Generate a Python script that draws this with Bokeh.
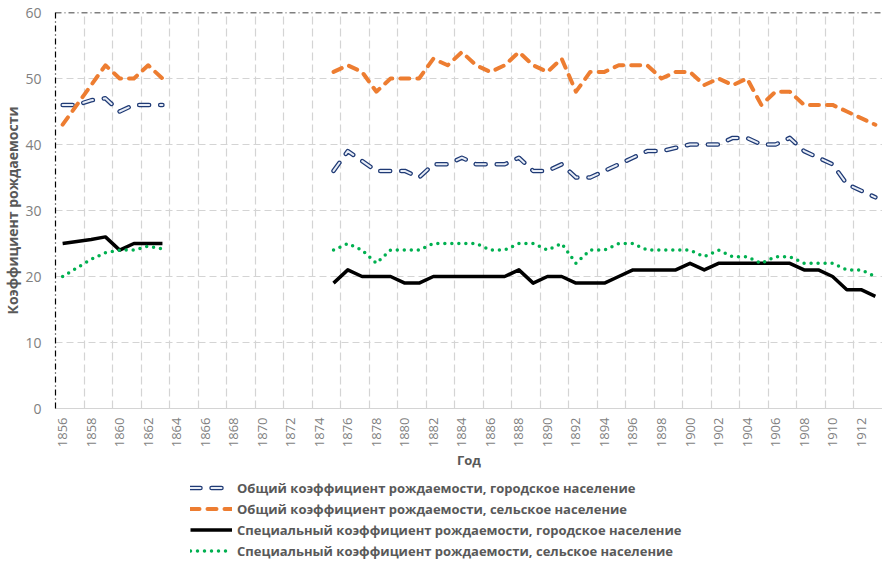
import numpy as np
from bokeh.plotting import figure
from bokeh.layouts import column
from bokeh.models import Range1d, FixedTicker, Span, Legend, LegendItem
from bokeh.embed import file_html
from bokeh.resources import INLINE

# ---------------- data ----------------
years = list(range(1856, 1914))
x_tick_years = list(range(1856, 1913, 2))
y_ticks = [0, 10, 20, 30, 40, 50, 60]

series_names = [
    "Общий коэффициент рождаемости, городское население",
    "Общий коэффициент рождаемости, сельское население",
    "Специальный коэффициент рождаемости, городское население",
    "Специальный коэффициент рождаемости, сельское население",
]

gap = [None] * 11  # 1864-1874: no data

urban_general = [46, 46, 46.7, 47, 45, 46, 46, 46] + gap + [
    36, 39, 37.5, 36, 36, 36, 35, 37, 37, 38, 37, 37, 37, 38, 36, 36, 37, 35, 35, 36,
    37, 38, 39, 39, 39.5, 40, 40, 40, 41, 41, 40, 40, 41, 39, 38, 37, 34, 33, 32]
rural_general = [43, 46, 49, 52, 50, 50, 52, 50] + gap + [
    51, 52, 51, 48, 50, 50, 50, 53, 52, 54, 52, 51, 52, 54, 52, 51, 53, 48, 51, 51,
    52, 52, 52, 50, 51, 51, 49, 50, 49, 50, 46, 48, 48, 46, 46, 46, 45, 44, 43]
urban_special = [25, 25.3, 25.6, 26, 24, 25, 25, 25] + gap + [
    19, 21, 20, 20, 20, 19, 19, 20, 20, 20, 20, 20, 20, 21, 19, 20, 20, 19, 19, 19,
    20, 21, 21, 21, 21, 22, 21, 22, 22, 22, 22, 22, 22, 21, 21, 20, 18, 18, 17]
rural_special = [20, 21.3, 22.6, 23.6, 24, 24, 24.6, 24.2] + gap + [
    24, 25, 24, 22, 24, 24, 24, 25, 25, 25, 25, 24, 24, 25, 25, 24, 25, 22, 24, 24,
    25, 25, 24, 24, 24, 24, 23, 24, 23, 23, 22, 23, 23, 22, 22, 22, 21, 21, 20]


def arr(v):
    return np.array([np.nan if a is None else a for a in v], dtype=float)


x = np.array(years, dtype=float)

FONT = "Open Sans"
GRID = "#d4d4d4"

# line styles (shared by the chart and the legend strip)
styles = [
    [dict(line_color="#1f3a75", line_width=4.5, line_dash="10 11", line_cap="round", line_join="round"),
     dict(line_color="#e8edf6", line_width=2, line_dash="10 11", line_cap="round", line_join="round")],
    [dict(line_color="#ed7d31", line_width=4, line_dash="9 8", line_cap="round", line_join="round")],
    [dict(line_color="black", line_width=3.5, line_join="round")],
    [dict(line_color="#00b050", line_width=3.5, line_dash="0 7", line_cap="round", line_join="round")],
]
series_values = [urban_general, rural_general, urban_special, rural_special]

p = figure(width=882, height=472, output_backend="svg", toolbar_location=None,
           x_range=Range1d(years[0] - 0.5, years[-1] + 0.5),
           y_range=Range1d(y_ticks[0], y_ticks[-1]),
           min_border_left=52, min_border_right=0, min_border_top=12,
           min_border_bottom=63)
p.outline_line_color = None
p.background_fill_color = "white"
p.border_fill_color = "white"

# x axis: labels at category centres, tick marks at boundaries (every 2 years)
boundaries = [y - 0.5 for y in range(years[0], years[-1] + 2, 2)]
xticker = FixedTicker(ticks=x_tick_years, minor_ticks=boundaries)
p.xaxis.ticker = xticker
p.xaxis.major_label_overrides = {t: str(t) for t in x_tick_years}
p.xaxis.major_label_orientation = np.pi / 2
p.xaxis.major_label_text_font = FONT
p.xaxis.major_label_text_font_size = "13px"
p.xaxis.major_label_text_color = "#7f7f7f"
p.xaxis.major_label_standoff = 3
p.xaxis.major_tick_line_color = None
p.xaxis.minor_tick_line_color = GRID
p.xaxis.minor_tick_in = 6
p.xaxis.minor_tick_out = 0
p.xaxis.axis_line_color = GRID
p.xaxis.axis_line_width = 1.2
p.xaxis.axis_label = "Год"
p.xaxis.axis_label_text_font = FONT
p.xaxis.axis_label_text_font_size = "13px"
p.xaxis.axis_label_text_font_style = "bold"
p.xaxis.axis_label_text_color = "#595959"
p.xaxis.axis_label_standoff = 1

p.xgrid.ticker = xticker
p.xgrid.grid_line_color = None
p.xgrid.minor_grid_line_color = GRID
p.xgrid.minor_grid_line_dash = "8 4"
p.xgrid.minor_grid_line_width = 1.2

# y axis
p.yaxis.ticker = FixedTicker(ticks=y_ticks)
p.yaxis.major_label_text_font = FONT
p.yaxis.major_label_text_font_size = "14px"
p.yaxis.major_label_text_color = "#808080"
p.yaxis.major_tick_line_color = None
p.yaxis.minor_tick_line_color = None
p.yaxis.major_label_standoff = 8
p.yaxis.axis_line_color = "black"
p.yaxis.axis_line_dash = "6 3 1 3"
p.yaxis.axis_line_width = 1.2
p.yaxis.axis_label = "Коэффициент рождаемости"
p.yaxis.axis_label_text_font = FONT
p.yaxis.axis_label_text_font_size = "14px"
p.yaxis.axis_label_text_font_style = "bold"
p.yaxis.axis_label_text_color = "#595959"
p.yaxis.axis_label_standoff = 0

p.ygrid.ticker = FixedTicker(ticks=y_ticks[1:-1])
p.ygrid.grid_line_color = GRID
p.ygrid.grid_line_dash = "7 4"
p.ygrid.grid_line_width = 1.2

p.add_layout(Span(location=y_ticks[-1], dimension="width", line_color="black",
                  line_dash="6 3 1 3", line_width=1.5))

for vals, st in zip(series_values, styles):
    for s in st:
        p.line(x, arr(vals), **s)

# ---------------- legend strip below the chart ----------------
# its own copies of the series lie outside its (hidden) ranges; only the legend shows
q = figure(width=882, height=91, output_backend="svg", toolbar_location=None,
           x_range=Range1d(0, 1), y_range=Range1d(0, 1),
           x_axis_location=None, y_axis_location=None,
           min_border_left=0, min_border_right=0, min_border_top=0,
           min_border_bottom=0)
q.grid.visible = False
q.outline_line_color = None
q.border_fill_color = "white"
q.background_fill_color = "white"

items = []
for name, vals, st in zip(series_names, series_values, styles):
    rs = [q.line(x, arr(vals), **s) for s in st]
    items.append(LegendItem(label=name, renderers=rs))

legend = Legend(items=items)
legend.orientation = "vertical"
legend.location = (135, 2)
legend.border_line_color = None
legend.background_fill_alpha = 0
legend.margin = 0
legend.padding = 0
legend.spacing = 0
legend.glyph_width = 42
legend.glyph_height = 21
legend.label_height = 21
legend.label_standoff = 5
legend.label_text_font = FONT
legend.label_text_font_size = "13px"
legend.label_text_font_style = "bold"
legend.label_text_color = "#595959"
q.add_layout(legend, "center")

layout = column(p, q, spacing=0)
open("out.html", "w").write(file_html(layout, INLINE))
